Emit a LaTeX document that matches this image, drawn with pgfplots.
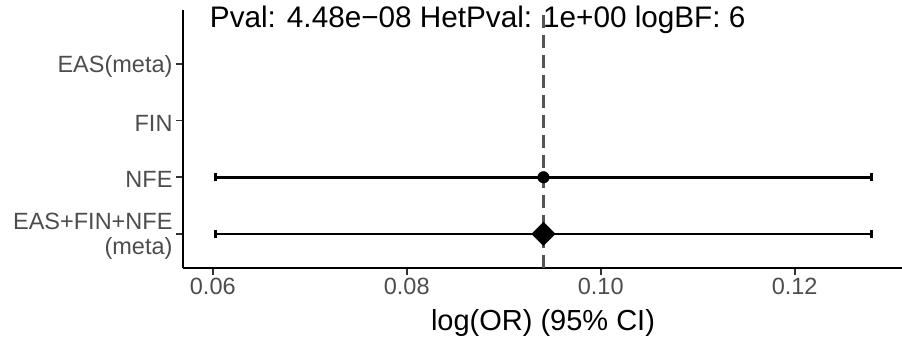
\documentclass[border=0pt]{standalone}
\usepackage{pgfplots}
\pgfplotsset{compat=1.18}
\usepackage{fontspec}
\setmainfont{Liberation Sans}
\definecolor{tickgray}{HTML}{4D4D4D}
\definecolor{tickline}{HTML}{333333}
\definecolor{vgray}{HTML}{555555}
\begin{document}
\begin{tikzpicture}
\useasboundingbox (0,0) rectangle (902pt,339pt);
\begin{axis}[
  at={(183pt,71pt)}, anchor=south west,
  scale only axis, width=720pt, height=258pt,
  xmin=0.05693, xmax=0.13117, ymin=0.4, ymax=4.95,
  clip=false,
  axis lines=left, axis line style={-, black, line width=1.9pt},
  tick align=outside, major tick length=7pt,
  every tick/.style={tickline, line width=1.7pt},
  xtick={0.06,0.08,0.10,0.12}, xticklabels={0.06,0.08,0.10,0.12},
  ytick={1,2,3,4}, yticklabels={{EAS+FIN+NFE\\(meta)},NFE,FIN,EAS(meta)},
  ticklabel style={font=\fontsize{23.5}{25}\selectfont, text=tickgray},
  yticklabel style={align=right, yshift=-2.5pt},
  xlabel={log(OR) (95\% CI)},
  xlabel style={font=\fontsize{29}{34}\selectfont, at={(axis description cs:0.5,0)}, anchor=base, yshift=-63pt},
]
\addplot[only marks, mark=*, mark size=5.8pt, black,
  error bars/.cd, x dir=both, x explicit,
  error bar style={line width=2.6pt, black},
  error mark options={rotate=90, line width=3pt, mark size=4pt, black}]
  coordinates {(0.0941,2) +- (0.0338,0)};
\addplot[only marks, mark=square*, mark options={rotate=45}, mark size=8.3pt, black,
  error bars/.cd, x dir=both, x explicit,
  error bar style={line width=2.6pt, black},
  error mark options={rotate=90, line width=3pt, mark size=4pt, black}]
  coordinates {(0.0941,1) +- (0.0338,0)};
\node[anchor=base west, font=\fontsize{29.7}{34}\selectfont, inner sep=0pt] at (axis cs:0.05969,4.65) {Pval: 4.48e−08 HetPval: 1e+00 logBF: 6};
\addplot[vgray, line width=2.6pt, dash pattern=on 13pt off 7pt] coordinates {(0.0941,0.4) (0.0941,4.95)};
\end{axis}
\end{tikzpicture}
\end{document}
